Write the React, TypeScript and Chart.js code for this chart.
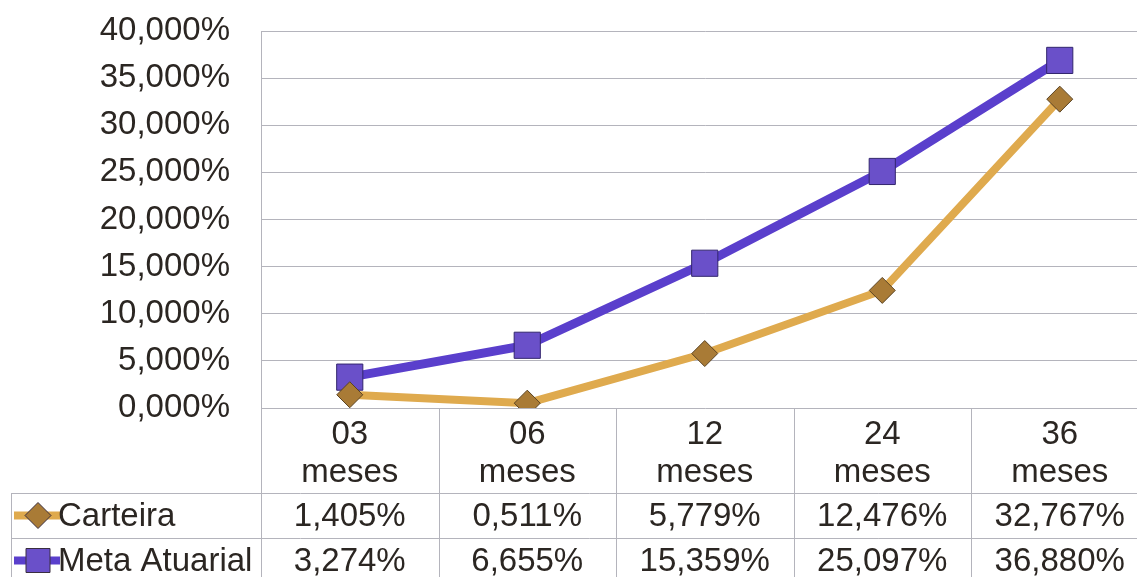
import React, { useEffect, useRef } from 'react';
import { Chart, registerables } from 'chart.js';

Chart.register(...registerables);

const categories: string[][] = [
  ['03', 'meses'],
  ['06', 'meses'],
  ['12', 'meses'],
  ['24', 'meses'],
  ['36', 'meses'],
];
const seriesNames = ['Carteira', 'Meta Atuarial'];
const carteira = [1.405, 0.511, 5.779, 12.476, 32.767];
const metaAtuarial = [3.274, 6.655, 15.359, 25.097, 36.88];
const yMin = 0;
const yMax = 40;
const yStep = 5;

const FONT = '"Liberation Sans", Arial, sans-serif';
const TEXT = '#2b2622';
const GRID = '#b4b4bc';
const GOLD_LINE = '#dfaa4e';
const GOLD_MARK = '#a97b36';
const PURPLE_LINE = '#5a3fcc';
const PURPLE_MARK = '#6a50c9';

const fmt = (v: number) => v.toFixed(3).replace('.', ',') + '%';

const tablePlugin = {
  id: 'dataTable',
  afterDraw(chart: any) {
    const ctx: CanvasRenderingContext2D = chart.ctx;
    const xs = chart.scales.x;
    const a = chart.chartArea;
    const W = chart.width;
    const H = chart.height;
    const line = (x1: number, y1: number, x2: number, y2: number) => {
      ctx.beginPath();
      ctx.moveTo(x1, y1);
      ctx.lineTo(x2, y2);
      ctx.stroke();
    };
    ctx.save();
    ctx.strokeStyle = GRID;
    ctx.lineWidth = 1;
    for (let i = 0; i <= categories.length; i++) {
      const px = Math.round(xs.getPixelForValue(i - 0.5)) + 0.5;
      line(px, a.bottom, px, H);
    }
    const rowTop = 493;
    const rowH = 45;
    const tableLeft = 11.5;
    for (let r = 0; r <= 2; r++) {
      const y = rowTop + r * rowH + 0.5;
      line(tableLeft, y, W, y);
    }
    line(tableLeft, rowTop, tableLeft, H);

    const rows = [
      { name: seriesNames[0], data: carteira, lc: GOLD_LINE, mc: GOLD_MARK, shape: 'diamond' },
      { name: seriesNames[1], data: metaAtuarial, lc: PURPLE_LINE, mc: PURPLE_MARK, shape: 'square' },
    ];
    ctx.font = `33px ${FONT}`;
    ctx.textBaseline = 'middle';
    rows.forEach((row, r) => {
      const cy = rowTop + r * rowH + rowH / 2;
      ctx.strokeStyle = row.lc;
      ctx.lineWidth = 8;
      line(14, cy, 60, cy);
      ctx.fillStyle = row.mc;
      ctx.strokeStyle = '#3a2e40';
      ctx.lineWidth = 1;
      ctx.beginPath();
      if (row.shape === 'diamond') {
        const s = 13;
        ctx.moveTo(38, cy - s);
        ctx.lineTo(38 + s, cy);
        ctx.lineTo(38, cy + s);
        ctx.lineTo(38 - s, cy);
        ctx.closePath();
      } else {
        ctx.rect(38 - 12, cy - 12, 24, 24);
      }
      ctx.fill();
      ctx.stroke();
      ctx.fillStyle = TEXT;
      ctx.textAlign = 'left';
      ctx.fillText(row.name, 58, cy + 1);
      ctx.textAlign = 'center';
      row.data.forEach((v, i) => {
        ctx.fillText(fmt(v), xs.getPixelForValue(i), cy + 1);
      });
    });
    ctx.restore();
  },
};

export default function App() {
  const ref = useRef<HTMLCanvasElement | null>(null);
  useEffect(() => {
    document.body.style.margin = '0';
    document.body.style.overflow = 'hidden';
    const canvas = ref.current;
    if (!canvas) return;
    const chart = new Chart(canvas, {
      type: 'line',
      data: {
        labels: categories as any,
        datasets: [
          {
            label: seriesNames[0],
            data: carteira,
            borderColor: GOLD_LINE,
            borderWidth: 8,
            pointStyle: 'rectRot',
            pointRadius: 13,
            pointBackgroundColor: GOLD_MARK,
            pointBorderColor: '#5a4322',
            pointBorderWidth: 1,
            tension: 0,
          },
          {
            label: seriesNames[1],
            data: metaAtuarial,
            borderColor: PURPLE_LINE,
            borderWidth: 9,
            pointStyle: 'rect',
            pointRadius: 18.5,
            pointBackgroundColor: PURPLE_MARK,
            pointBorderColor: '#33266e',
            pointBorderWidth: 1,
            tension: 0,
          },
        ],
      },
      options: {
        responsive: false,
        animation: false,
        layout: { padding: { top: 31, left: 0, right: 0, bottom: 0 } },
        plugins: { legend: { display: false }, tooltip: { enabled: false } },
        scales: {
          x: {
            offset: true,
            grid: { display: false },
            border: { display: false },
            ticks: {
              color: TEXT,
              font: { family: FONT, size: 33, lineHeight: 1.15 },
              padding: 0,
              maxRotation: 0,
              autoSkip: false,
            },
            afterFit: (s: any) => {
              s.height = 169;
            },
          },
          y: {
            min: yMin,
            max: yMax,
            ticks: {
              stepSize: yStep,
              color: TEXT,
              font: { family: FONT, size: 33 },
              padding: 3,
              callback: (v: any) => fmt(Number(v)),
            },
            grid: {
              color: GRID,
              drawTicks: true,
              tickLength: 28,
              tickColor: 'rgba(0,0,0,0)',
              lineWidth: 1,
            },
            border: { display: true, color: GRID },
            afterFit: (s: any) => {
              s.width = 261;
            },
          },
        },
      },
      plugins: [tablePlugin],
    });
    return () => chart.destroy();
  }, []);
  return (
    <div style={{ width: 1137, height: 577, overflow: 'hidden', background: '#fff' }}>
      <canvas ref={ref} width={1168} height={577} style={{ display: 'block' }} />
    </div>
  );
}
